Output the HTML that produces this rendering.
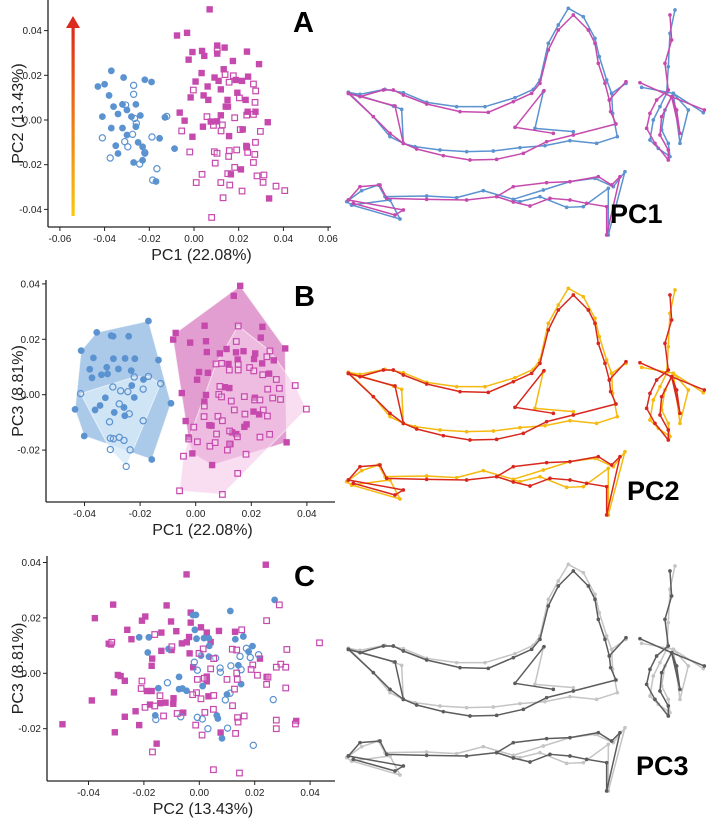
<!DOCTYPE html>
<html><head><meta charset="utf-8">
<style>
html,body{margin:0;padding:0;background:#fff;}
svg{display:block;font-family:"Liberation Sans",sans-serif;}
</style></head>
<body>
<svg id="fig" width="709" height="821" viewBox="0 0 709 821">
<defs>
<linearGradient id="arrowGrad" x1="0" y1="1" x2="0" y2="0">
<stop offset="0" stop-color="#f9c80e"/><stop offset="0.5" stop-color="#ef7a16"/><stop offset="1" stop-color="#dc2a1c"/>
</linearGradient>
</defs>
<g>
<rect x="71.5" y="27" width="3.2" height="189" fill="url(#arrowGrad)"/>
<polygon points="73,16 66,28 80,28" fill="#dc2a1c"/>
</g>
</svg>
<script>
// ---------- DATA ----------
// Panel A: PC1 vs PC2
const aBlueFilledX=[-0.043,-0.040,-0.037,-0.038,-0.0315,-0.022,-0.019,-0.041,-0.036,-0.034,-0.032,-0.030,-0.026,-0.024,-0.037,-0.032,-0.030,-0.026,-0.035,-0.034,-0.027,-0.025,-0.023,-0.022,-0.0154,-0.013,-0.0087,-0.017,-0.023,-0.028];
const aBlueFilledY=[0.015,0.016,0.022,0.011,0.019,0.018,0.017,0.0015,0.006,0.0027,0.007,0.0045,0.007,0.002,-0.0036,-0.0036,-0.0067,-0.003,-0.0115,-0.015,-0.019,-0.010,-0.012,-0.015,-0.0082,0.0012,-0.0128,-0.0275,-0.018,0.0015];
const aBlueOpenX=[-0.027,-0.027,-0.0306,-0.0266,-0.0275,-0.041,-0.031,-0.0296,-0.0375,-0.0188,-0.0122,-0.0243,-0.0166,-0.0185,-0.022,-0.0258];
const aBlueOpenY=[0.0155,0.0115,0.0067,0.0007,-0.0064,-0.008,-0.0097,-0.012,-0.017,-0.0076,0.0016,-0.0197,-0.0218,-0.0269,-0.0146,-0.0015];
const aMagFilledX=[0.007,-0.0076,-0.0031,-0.0007,-0.0024,0.0036,0.0046,0.0104,0.0137,0.0104,0.0174,0.0237,0.0291,0.0034,0.0092,0.0133,0.011,0.0007,0.0061,-0.0015,0.0043,0.0064,0.012,0.0194,0.0187,0.0215,0.0242,0.0231,0.0275,0.0240,0.0152,0.012,0.0075,0.0040,0.0157,0.0218,0.033,-0.0064,-0.0042,-0.0007,0.0103,0.0142,0.021,0.0165,0.0336,0.0234,0.015];
const aMagFilledY=[0.0495,0.0378,0.039,0.0304,0.027,0.0309,0.0287,0.0333,0.0324,0.0297,0.0264,0.0306,0.025,0.021,0.019,0.0227,0.0175,0.0172,0.015,0.0101,0.011,0.009,0.0137,0.0122,0.0179,0.0175,0.0194,0.009,0.0037,0.0037,0.006,0.0021,-0.0007,-0.003,-0.0072,-0.0042,-0.001,0.0033,-0.0003,-0.0075,-0.0006,0.006,-0.0221,-0.0243,-0.0351,-0.0116,0.009];
const aMagOpenX=[0.0104,0.0139,0.0157,0.0176,0.0266,0.0276,0.0203,0.0273,0.0266,-0.0003,0.0058,0.0087,0.0121,0.0127,0.0182,0.0236,0.0207,0.0297,-0.0055,-0.0019,0.0091,0.0103,0.0158,0.0191,0.0236,0.024,0.0275,0.0272,0.0155,0.0095,0.0182,0.0266,0.0036,0.001,0.012,0.016,0.0151,0.0215,0.0282,0.0313,0.0309,0.0367,0.0406,0.013,0.0079];
const aMagOpenY=[0.0313,0.0203,0.0169,0.0198,0.0161,0.013,0.0099,0.0079,0.0025,0.0134,0.0015,-0.0024,-0.0049,-0.0022,0.001,0.0022,-0.0043,-0.0051,-0.0049,-0.0143,-0.0142,-0.0149,-0.0137,-0.0134,-0.0122,-0.0145,-0.01,-0.0154,-0.0163,-0.0193,-0.0212,-0.019,-0.0243,-0.028,-0.028,-0.0291,-0.024,-0.0318,-0.025,-0.0246,-0.0279,-0.0296,-0.0316,-0.0348,-0.0436];
// Panel B: PC1 vs PC3
const bBlueFilledX=[-0.017,-0.0356,-0.0304,-0.0297,-0.0241,-0.0412,-0.0368,-0.0381,-0.0373,-0.0339,-0.032,-0.0317,-0.0296,-0.0278,-0.0254,-0.0219,-0.0232,-0.0134,-0.0188,-0.023,-0.0221,-0.0325,-0.0344,-0.0362,-0.0434,-0.0293,-0.0258,-0.0255,-0.0089,-0.0401,-0.0158];
const bBlueFilledY=[0.0266,0.0225,0.0213,0.0211,0.0211,0.0159,0.0133,0.0092,0.0061,0.0072,0.0099,0.0075,0.013,0.0093,0.0131,0.013,0.0087,0.0125,0.0055,0.0033,-0.001,-0.0011,-0.0039,-0.0055,-0.0053,-0.0064,-0.0046,-0.0076,-0.0031,-0.0149,-0.0234];
const bBlueOpenX=[-0.0414,-0.0221,-0.017,-0.0126,-0.0189,-0.0298,-0.027,-0.0244,-0.0275,-0.0239,-0.031,-0.0189,-0.0307,-0.0275,-0.0258,-0.0307,-0.0236,-0.025,-0.0296];
const bBlueOpenY=[0.0004,0.0064,0.0066,0.004,0.002,0.0028,0.0014,0.0011,-0.0033,-0.0069,-0.0098,-0.0094,-0.0157,-0.0154,-0.0165,-0.0198,-0.0199,-0.0259,-0.0159];
const bMagFilledX=[0.016,0.0137,-0.0072,-0.0081,0.0032,-0.002,0.0037,0.004,0.0087,0.0111,0.0145,0.0172,0.024,0.0234,0.0214,0.0322,0.0281,0.0239,0.0151,0.0118,0.0012,0.0044,0.0005,-0.005,0.0037,0.0031,0.0105,0.0121,0.0264,0.0213,0.0208,0.0228,-0.0036,0.0049,0.0057,0.0183,0.0175,0.0131,0.0146,0.0125,-0.0026,-0.0012,0.0059,0.0327,0.021];
const bMagFilledY=[0.0393,0.0357,0.0223,0.0199,0.0249,0.0188,0.0193,0.0154,0.0149,0.0165,0.0153,0.0157,0.0245,0.0206,0.0149,0.0167,0.0124,0.0113,0.0127,0.0111,0.0082,0.0079,0.0054,0.0006,-0.0001,-0.0025,0.0027,0.0024,0.0076,-0.0011,-0.0061,-0.0071,-0.0095,-0.011,-0.0112,-0.0107,-0.0116,-0.0136,-0.0142,-0.0178,-0.0154,-0.0212,-0.0254,-0.0172,0.0129];
const bMagOpenX=[0.0153,0.0146,0.0267,0.0256,0.0194,0.0209,0.0153,0.0153,0.0121,0.0093,0.0073,0.029,0.0301,0.0241,0.0259,0.0358,0.0398,0.0087,0.0083,0.0093,0.0128,0.0175,0.0212,0.0231,0.0277,0.0305,0.0031,0.0139,0.008,0.003,0.0177,0.0243,0.0258,-0.0007,0.0096,0.0122,0.015,0.0075,0.0266,0.0231,-0.0025,0.0006,0.0051,0.007,0.0114,0.0122,0.0181,-0.0044,0.0151,-0.0058,0.0096];
const bMagOpenY=[0.0248,0.0192,0.0158,0.0137,0.0098,0.0086,0.011,0.0089,0.0089,0.0113,0.0111,0.0055,0.0023,0.0072,0.002,0.0033,-0.0052,0.003,0.0001,-0.0008,-0.0023,-0.0007,-0.0019,-0.0019,-0.0012,-0.0017,-0.0041,-0.0055,-0.0078,-0.0079,-0.007,-0.0055,-0.0077,-0.0117,-0.0094,-0.0131,-0.0152,-0.0142,-0.0143,-0.0153,-0.016,-0.017,-0.0186,-0.0173,-0.02,-0.0178,-0.0215,-0.0222,-0.0284,-0.0347,-0.036];
// Panel C: PC2 vs PC3
const cBlueFilledX=[-0.0217,-0.0182,-0.0186,-0.0111,-0.0023,-0.0012,-0.0016,-0.001,0.0017,0.0034,0.0036,0.0006,0.0035,0.0112,0.0159,0.0192,0.0178,0.0272,0.0141,-0.0148,-0.0073,-0.0073,-0.0061,-0.0046,0.0012,0.0151,0.01,-0.0159,0.0063,0.0067,0.0082,0.013];
const cBlueFilledY=[0.013,0.013,0.0075,0.0088,0.021,0.0211,0.0157,0.0125,0.0127,0.0127,0.0099,0.0064,0.006,0.0225,0.0133,0.0098,0.0078,0.0265,0.0029,-0.0054,-0.0013,-0.0057,-0.0055,-0.0063,-0.0046,-0.0039,-0.0076,-0.0152,-0.0152,-0.0163,-0.0235,0.0123];
const cBlueOpenX=[-0.0018,0.0059,0.0075,0.0076,0.0114,0.0151,0.0147,0.017,0.0184,0.0214,-0.0007,-0.0115,-0.0157,-0.0067,-0.0007,0.0011,0.0031,0.0094,0.0102,0.0267,0.0195,0.0111];
const cBlueOpenY=[0.004,0.0055,0.0019,0.0004,0.0027,0.0013,0.0061,0.009,0.0057,0.0067,0.0011,-0.0034,-0.0167,-0.0157,-0.0159,-0.0165,-0.02,-0.0096,-0.0198,-0.0095,-0.026,-0.0072];
const cMagFilledX=[0.024,-0.0046,-0.0311,-0.0377,-0.0118,-0.0195,-0.0207,-0.0102,-0.0031,-0.0031,-0.026,-0.0245,-0.0327,-0.0319,-0.0137,-0.0083,-0.0063,-0.0045,-0.0037,-0.01,-0.0137,-0.017,-0.0172,-0.0035,0.0006,0.0027,0.0041,0.0071,0.0129,0.0219,-0.0294,-0.0284,-0.0269,-0.0308,-0.0189,-0.0172,-0.0022,0.0027,0.0027,0.0033,-0.0093,-0.0094,-0.0122,-0.0141,-0.0178,-0.023,-0.0269,-0.0217,-0.0058,-0.0388,-0.0494,-0.0305,-0.0154,0.0077,0.0243,0.035];
const cMagFilledY=[0.0392,0.0357,0.0248,0.0199,0.0245,0.0205,0.019,0.0187,0.0219,0.0183,0.0157,0.0123,0.0107,0.0104,0.0147,0.0152,0.0108,0.0112,0.0131,0.0084,0.0081,0.0053,0.0027,0.0072,0.0166,0.0147,0.0113,0.0153,0.015,0.0053,-0.0006,-0.001,-0.0027,-0.0069,-0.0064,-0.0064,0.0022,-0.0012,-0.0029,-0.0083,-0.009,-0.011,-0.0106,-0.0108,-0.0113,-0.0137,-0.0157,-0.0187,-0.0142,-0.0098,-0.0184,-0.0213,-0.0254,-0.0214,-0.0013,-0.0172];
const cMagOpenX=[-0.0161,-0.0316,-0.0099,-0.0001,0.0014,0.0052,0.0153,0.0119,0.0135,0.0243,0.0289,0.0316,0.0434,0.0193,0.0187,0.0294,0.0278,0.021,0.0248,0.0243,0.0135,0.0137,0.01,0.0127,0.0018,-0.0007,0.0041,-0.0207,-0.021,-0.0142,-0.001,0.0006,-0.0024,0.0052,-0.0196,-0.0161,-0.0129,-0.008,0.002,0.0051,0.012,0.0138,0.014,0.0162,-0.0013,0.001,0.0131,0.0278,0.0278,0.0312,0.0347,-0.0169,0.0051,0.0145,0.0312];
const cMagOpenY=[0.014,0.0112,0.0096,0.0072,0.0088,0.0053,0.0157,0.0087,0.0084,0.019,0.0247,0.0086,0.011,0.003,0.0014,0.0033,0.0022,-0.0007,-0.0014,-0.004,0.0001,-0.0022,-0.0022,-0.0057,-0.0018,-0.0022,0.0016,-0.0028,-0.0055,-0.0081,-0.007,-0.0092,-0.0077,-0.008,-0.0123,-0.0118,-0.0154,-0.0145,-0.0141,-0.013,-0.0117,-0.016,-0.0176,-0.0154,-0.0187,-0.0223,-0.0217,-0.0169,-0.02,-0.0053,-0.0183,-0.0284,-0.0348,-0.036,0.0022];
const xTicksA=[-0.06,-0.04,-0.02,0.00,0.02,0.04,0.06];
const yTicksA=[0.04,0.02,0.00,-0.02,-0.04];
const xTicksB=[-0.04,-0.02,0.00,0.02,0.04];
const yTicksB=[0.04,0.02,0.00,-0.02];
const xTicksC=[-0.04,-0.02,0.00,0.02,0.04];
const yTicksC=[0.04,0.02,0.00,-0.02];

// ---------- DRAW ----------
const NS="http://www.w3.org/2000/svg";
const svg=document.getElementById('fig');
const BLUE="#5b92d0", MAG="#c64aae";
function mk(tag,attrs,parent){const e=document.createElementNS(NS,tag);for(const k in attrs)e.setAttribute(k,attrs[k]);(parent||svg).appendChild(e);return e;}
function fmt(v){return v.toFixed(2);}

function hull(xs,ys,sx,sy){
  let p=xs.map((x,i)=>[sx(x),sy(ys[i])]).sort((a,b)=>a[0]-b[0]||a[1]-b[1]);
  const cr=(o,a,b)=>(a[0]-o[0])*(b[1]-o[1])-(a[1]-o[1])*(b[0]-o[0]);
  const lo=[],up=[];
  for(const q of p){while(lo.length>=2&&cr(lo[lo.length-2],lo[lo.length-1],q)<=0)lo.pop();lo.push(q);}
  for(const q of p.slice().reverse()){while(up.length>=2&&cr(up[up.length-2],up[up.length-1],q)<=0)up.pop();up.push(q);}
  return lo.slice(0,-1).concat(up.slice(0,-1));
}

function panel(cfg){
  const g=mk('g',{});
  
  
  const sx=v=>cfg.x0+v*cfg.kx, sy=v=>cfg.y0-v*cfg.ky;
  if(cfg.hulls){
    cfg.hulls.forEach(h=>{
      const pts=hull(h.xs,h.ys,sx,sy);
      const poly=mk('polygon',{points:pts.map(p=>p.join(',')).join(' '),fill:h.fill,'fill-opacity':h.op,stroke:'#fff','stroke-opacity':0.6,'stroke-width':1},g);
      
      
    });
  }
  // axes
  const ax=mk('g',{},g);
  
  
  mk('line',{x1:cfg.axX,y1:cfg.top,x2:cfg.axX,y2:cfg.axY,stroke:'#222','stroke-width':1.3},ax);
  mk('line',{x1:cfg.axX,y1:cfg.axY,x2:cfg.right,y2:cfg.axY,stroke:'#222','stroke-width':1.3},ax);
  cfg.xt.forEach(t=>{
    const x=sx(t);
    mk('line',{x1:x,y1:cfg.axY,x2:x,y2:cfg.axY+4,stroke:'#222','stroke-width':1},ax);
    const tx=mk('text',{x:x,y:cfg.axY+15,'font-size':10,'text-anchor':'middle',fill:'#222'},ax);
    tx.textContent=fmt(t);
    
    
  });
  cfg.yt.forEach(t=>{
    const y=sy(t);
    mk('line',{x1:cfg.axX-4,y1:y,x2:cfg.axX,y2:y,stroke:'#222','stroke-width':1},ax);
    const tx=mk('text',{x:cfg.axX-6,y:y+3.5,'font-size':10,'text-anchor':'end',fill:'#222'},ax);
    tx.textContent=fmt(t);
    
    
  });
  const xl=mk('text',{x:(cfg.axX+cfg.right)/2+12,y:cfg.axY+33,'font-size':16,'text-anchor':'middle',fill:'#222'},g);
  xl.textContent=cfg.xlab;
  
  
  const ym=(cfg.top+cfg.axY)/2;
  const yl=mk('text',{x:0,y:0,'font-size':16,'text-anchor':'middle',fill:'#222',transform:`translate(23,${ym}) rotate(-90)`},g);
  yl.textContent=cfg.ylab;
  
  
  const lt=mk('text',{x:cfg.lx,y:cfg.ly,'font-size':29,'font-weight':'bold',fill:'#000'},g);
  lt.textContent=cfg.letter;
  
  
  // points
  cfg.series.forEach(s=>{
    s.xs.forEach((v,i)=>{
      const x=sx(v), y=sy(s.ys[i]);
      let e;
      if(s.shape==='sq'){
        e=s.open?mk('rect',{x:x-2.8,y:y-2.8,width:5.6,height:5.6,fill:'#fff','fill-opacity':0.3,stroke:s.c,'stroke-width':1.2},g)
                :mk('rect',{x:x-3.2,y:y-3.2,width:6.4,height:6.4,fill:s.c},g);
      }else{
        e=s.open?mk('circle',{cx:x,cy:y,r:3.1,fill:'none',stroke:s.c,'stroke-width':1.2},g)
                :mk('circle',{cx:x,cy:y,r:3.4,fill:s.c},g);
      }
      
      
    });
  });
}

panel({name:'panel-a',x0:194,kx:2235,y0:120,ky:2235,axX:48,axY:227,top:0,right:331,xt:xTicksA,yt:yTicksA,
  xlab:'PC1 (22.08%)',ylab:'PC2 (13.43%)',letter:'A',lx:293,ly:32,
  series:[{xs:aBlueFilledX,ys:aBlueFilledY,shape:'ci',open:false,c:BLUE,nm:'blue-filled-point'},
          {xs:aBlueOpenX,ys:aBlueOpenY,shape:'ci',open:true,c:BLUE,nm:'blue-open-point'},
          {xs:aMagOpenX,ys:aMagOpenY,shape:'sq',open:true,c:MAG,nm:'magenta-open-point'},
          {xs:aMagFilledX,ys:aMagFilledY,shape:'sq',open:false,c:MAG,nm:'magenta-filled-point'}]});
panel({name:'panel-b',x0:195.7,kx:2780,y0:394.7,ky:2770,axX:46,axY:502,top:280,right:335,xt:xTicksB,yt:yTicksB,
  xlab:'PC1 (22.08%)',ylab:'PC3 (8.81%)',letter:'B',lx:294,ly:306,
  hulls:[{xs:bBlueFilledX,ys:bBlueFilledY,fill:'#8fb8e2',op:0.75,nm:'blue-filled-hull'},
         {xs:bBlueOpenX,ys:bBlueOpenY,fill:'#d8eaf8',op:0.8,nm:'blue-open-hull'},
         {xs:bMagFilledX,ys:bMagFilledY,fill:'#dc86c6',op:0.8,nm:'magenta-filled-hull'},
         {xs:bMagOpenX,ys:bMagOpenY,fill:'#f6cce9',op:0.65,nm:'magenta-open-hull'}],
  series:[{xs:bBlueFilledX,ys:bBlueFilledY,shape:'ci',open:false,c:BLUE,nm:'blue-filled-point'},
          {xs:bBlueOpenX,ys:bBlueOpenY,shape:'ci',open:true,c:BLUE,nm:'blue-open-point'},
          {xs:bMagFilledX,ys:bMagFilledY,shape:'sq',open:false,c:MAG,nm:'magenta-filled-point'},
          {xs:bMagOpenX,ys:bMagOpenY,shape:'sq',open:true,c:MAG,nm:'magenta-open-point'}]});
panel({name:'panel-c',x0:199.3,kx:2770,y0:673.3,ky:2770,axX:47,axY:781,top:556,right:335,xt:xTicksC,yt:yTicksC,
  xlab:'PC2 (13.43%)',ylab:'PC3 (8.81%)',letter:'C',lx:294,ly:586,
  series:[{xs:cMagFilledX,ys:cMagFilledY,shape:'sq',open:false,c:MAG,nm:'magenta-filled-point'},
          {xs:cBlueFilledX,ys:cBlueFilledY,shape:'ci',open:false,c:BLUE,nm:'blue-filled-point'},
          {xs:cBlueOpenX,ys:cBlueOpenY,shape:'ci',open:true,c:BLUE,nm:'blue-open-point'},
          {xs:cMagOpenX,ys:cMagOpenY,shape:'sq',open:true,c:MAG,nm:'magenta-open-point'}]});

// ---------- wireframe shapes (illustrations, zoom coords x3) ----------
const shapeA=[
 [[25,277],[60,283],[135,268],[190,278],[260,307],[350,320],[435,320],[525,293],[580,268],[600,240],[625,130],[655,75],[685,25],[730,50],[765,115],[778,170],[800,240],[815,280],[818,340],[832,410],[770,430],[690,422],[615,437],[540,443],[460,453],[380,455],[300,450],[225,440],[190,430],[150,410],[100,350],[25,277]],
 [[25,277],[160,318],[185,328],[190,430]],
 [[610,275],[585,385],[700,395]],
 [[815,280],[858,250]],
 [[1005,30],[990,100],[985,200],[980,280],[960,320],[940,360],[930,420],[955,445],[990,470],[985,430],[965,390],[975,330],[1000,280],[1045,330],[1020,430],[1000,280],[1090,338]],
 [[905,262],[1000,280]],
 [[35,615],[20,605],[65,572],[115,555],[135,590],[260,588],[350,593],[430,572],[520,598],[610,570],[690,545],[765,535],[820,560],[855,515],[805,705],[805,565],[730,620],[680,622],[600,590],[540,605],[520,600]],
 [[35,615],[180,657],[150,600],[35,615]]
];
const shapeB=[
 [[25,280],[60,290],[130,270],[160,270],[190,285],[260,312],[360,335],[445,337],[520,305],[575,280],[600,250],[625,150],[655,90],[700,45],[745,90],[765,130],[775,190],[795,250],[808,300],[812,335],[828,372],[700,405],[620,425],[550,460],[470,478],[390,480],[310,467],[230,447],[190,430],[150,400],[100,350],[25,280]],
 [[25,280],[165,318],[190,430]],
 [[612,272],[525,382],[640,400]],
 [[808,300],[858,245]],
 [[990,45],[995,120],[975,190],[985,270],[950,300],[930,340],[920,385],[945,430],[985,480],[985,450],[960,405],[965,350],[995,290],[1010,330],[1020,400],[995,290],[1093,330]],
 [[900,248],[995,290]],
 [[25,600],[60,560],[120,555],[140,595],[260,598],[380,600],[470,590],[520,560],[620,548],[690,545],[775,530],[815,555],[840,530],[800,705],[800,620],[740,610],[690,600],[630,595],[570,618],[520,606],[470,590]],
 [[25,600],[190,630],[165,645],[40,610]]
];
const wireSets=[{dy:0,c1:BLUE,c2:MAG,lab:'PC1',nm:'pc1-shapes',ly:223,lx:610},
                {dy:280,c1:'#f5b90f',c2:'#d8281e',lab:'PC2',nm:'pc2-shapes',ly:500,lx:627},
                {dy:556,c1:'#c4c4c4',c2:'#5c5c5c',lab:'PC3',nm:'pc3-shapes',ly:775,lx:636}];
wireSets.forEach(w=>{
  const g=mk('g',{transform:`translate(340,${w.dy}) scale(0.3333)`});
  
  
  [[shapeA,w.c1],[shapeB,w.c2]].forEach(([sh,c],k)=>{
    sh.forEach(line=>{
      const pl=mk('polyline',{points:line.map(p=>p.join(',')).join(' '),fill:'none',stroke:c,'stroke-width':4.5,'stroke-linejoin':'round'},g);
      
      
      line.forEach(p=>{mk('circle',{cx:p[0],cy:p[1],r:5.5,fill:c},g);});
    });
  });
  const t=mk('text',{x:w.lx,y:w.ly,'font-size':27,'font-weight':'bold',fill:'#000'});
  t.textContent=w.lab;
  
  
});
</script>
</body></html>
